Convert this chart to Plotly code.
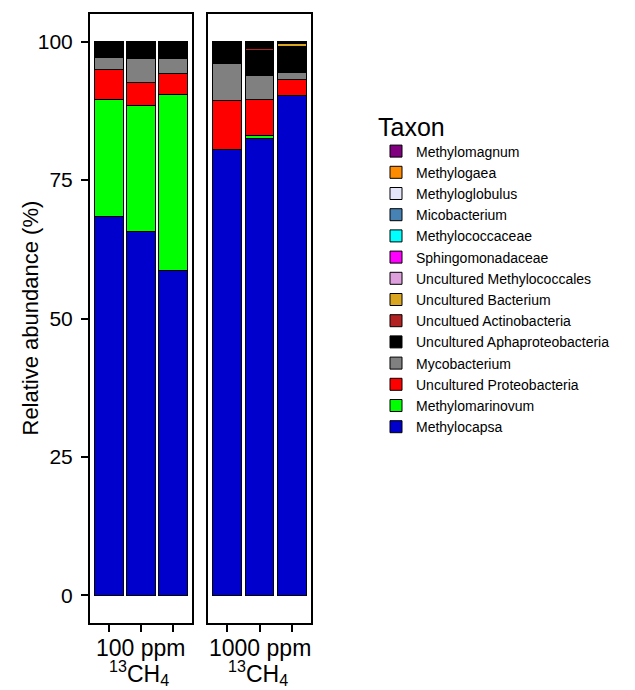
import plotly.graph_objects as go

samples = ["s1", "s2", "s3", "s4", "s5", "s6"]
panel_of = [1, 1, 1, 2, 2, 2]
panel_labels = ["100 ppm", "1000 ppm"]
sub_label = "<sup>13</sup>CH<sub>4</sub>"
y_title = "Relative abundance (%)"

# stacking order bottom -> top
taxa = [
    "Methylocapsa", "Methylomarinovum", "Uncultured Proteobacteria", "Mycobacterium",
    "Uncultured Aphaproteobacteria", "Uncultued Actinobacteria", "Uncultured Bacterium",
    "Uncultured Methylococcales", "Sphingomonadaceae", "Methylococcaceae",
    "Micobacterium", "Methyloglobulus", "Methylogaea", "Methylomagnum",
]
colors = {
    "Methylocapsa": "#0000CD", "Methylomarinovum": "#00FF00",
    "Uncultured Proteobacteria": "#FF0000", "Mycobacterium": "#808080",
    "Uncultured Aphaproteobacteria": "#000000", "Uncultued Actinobacteria": "#B22222",
    "Uncultured Bacterium": "#DAA520", "Uncultured Methylococcales": "#DDA0DD",
    "Sphingomonadaceae": "#FF00FF", "Methylococcaceae": "#00FFFF",
    "Micobacterium": "#4682B4", "Methyloglobulus": "#E6E6FA",
    "Methylogaea": "#FF8C00", "Methylomagnum": "#800080",
}

methylocapsa = [68.5, 65.8, 58.7, 80.5, 82.6, 90.3]
methylomarinovum = [21.0, 22.7, 31.8, 0.0, 0.5, 0.0]
unc_proteobacteria = [5.4, 4.1, 3.7, 8.9, 6.4, 2.8]
mycobacterium = [2.3, 4.3, 2.8, 6.7, 4.4, 1.3]
unc_aphaproteo = [2.8, 3.1, 3.0, 3.9, 4.5, 4.8]
unc_actinobacteria = [0.0, 0.0, 0.0, 0.0, 0.4, 0.0]
unc_bacterium = [0.0, 0.0, 0.0, 0.0, 0.0, 0.4]
unc_methylococcales = [0, 0, 0, 0, 0, 0]
sphingomonadaceae = [0, 0, 0, 0, 0, 0]
methylococcaceae = [0, 0, 0, 0, 0, 0]
micobacterium = [0, 0, 0, 0, 0, 0]
methyloglobulus = [0, 0, 0, 0, 0, 0]
methylogaea = [0, 0, 0, 0, 0, 0]
methylomagnum = [0, 0, 0, 0, 0, 0]
unc_aphaproteo_b = [0.0, 0.0, 0.0, 0.0, 1.2, 0.5]

values = {
    "Methylocapsa": methylocapsa, "Methylomarinovum": methylomarinovum,
    "Uncultured Proteobacteria": unc_proteobacteria, "Mycobacterium": mycobacterium,
    "Uncultured Aphaproteobacteria": unc_aphaproteo,
    "Uncultued Actinobacteria": unc_actinobacteria,
    "Uncultured Bacterium": unc_bacterium,
    "Uncultured Methylococcales": unc_methylococcales,
    "Sphingomonadaceae": sphingomonadaceae, "Methylococcaceae": methylococcaceae,
    "Micobacterium": micobacterium, "Methyloglobulus": methyloglobulus,
    "Methylogaea": methylogaea, "Methylomagnum": methylomagnum,
}

FONT = "Liberation Sans, Arial, sans-serif"
fig = go.Figure()

def add(name, vals, showlegend=True):
    for p in (1, 2):
        idx = [i for i in range(len(samples)) if panel_of[i] == p]
        fig.add_trace(go.Bar(
            x=[samples[i] for i in idx], y=[vals[i] for i in idx],
            name=name, showlegend=(showlegend and p == 1),
            marker=dict(color=colors[name], line=dict(color="black", width=1)),
            width=0.9,
            xaxis="x" if p == 1 else "x2", yaxis="y" if p == 1 else "y2",
        ))

for t in taxa:
    add(t, values[t])
add("Uncultured Aphaproteobacteria", unc_aphaproteo_b, showlegend=False)

W = 221.0
H = 609.0
axis_common = dict(showline=True, linecolor="black", linewidth=2, mirror=True,
                   showgrid=False, zeroline=False, automargin=False)
fig.update_layout(
    width=635, height=690,
    margin=dict(l=90, r=324, t=14, b=67),
    barmode="stack",
    plot_bgcolor="white", paper_bgcolor="white",
    font=dict(family=FONT, color="black"),
    xaxis=dict(domain=[0, 102 / W], range=[-0.6, 2.6], ticks="outside", ticklen=7,
               tickwidth=1.5, tickcolor="black", showticklabels=False, **axis_common),
    xaxis2=dict(domain=[118 / W, 1], range=[-0.6, 2.6], ticks="outside", ticklen=7,
                tickwidth=1.5, tickcolor="black", showticklabels=False, **axis_common),
    yaxis=dict(range=[-5, 105], tickvals=[0, 25, 50, 75, 100], ticks="outside",
               ticklen=7, tickwidth=1.5, tickcolor="black", ticklabelstandoff=4,
               tickfont=dict(size=21, family=FONT),
               **axis_common),
    yaxis2=dict(range=[-5, 105], anchor="x2", showticklabels=False, ticks="",
                **axis_common),
    legend=dict(x=(376 - 90) / W, y=(623 - 103) / H, xanchor="left", yanchor="top",
                traceorder="reversed", font=dict(size=14, family=FONT),
                title=dict(text="Taxon", font=dict(size=25, family=FONT)),
                itemclick=False),
    showlegend=True,
)

fig.add_annotation(x=(30 - 90) / W, y=0.5, xref="paper", yref="paper", text=y_title,
                   textangle=-90, showarrow=False, xanchor="center", yanchor="middle",
                   font=dict(size=22, family=FONT))

centers = [(51 / W), ((118 + 51.5) / W)]
for c, lab in zip(centers, panel_labels):
    fig.add_annotation(x=c, y=-(633 - 623) / H, xref="paper", yref="paper", text=lab,
                       showarrow=False, xanchor="center", yanchor="top",
                       font=dict(size=23, family=FONT))
    fig.add_annotation(x=c - 2 / W, y=-(655 - 623) / H, xref="paper", yref="paper",
                       text=sub_label, showarrow=False, xanchor="center", yanchor="top",
                       font=dict(size=23, family=FONT))

fig.write_html("out.html", config={"displayModeBar": False},
               post_script="document.body.style.margin='0';")
